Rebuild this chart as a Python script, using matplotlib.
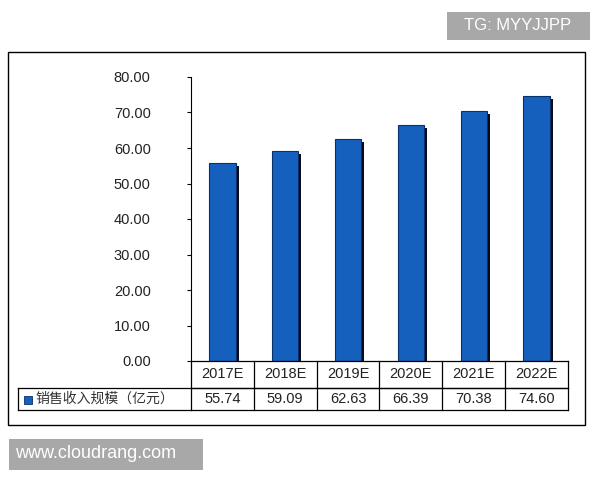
import matplotlib.pyplot as plt
from matplotlib.patches import Rectangle
from matplotlib.lines import Line2D

plt.rcParams['font.family'] = ['Noto Sans CJK SC', 'DejaVu Sans']

years = ['2017E', '2018E', '2019E', '2020E', '2021E', '2022E']
values = [55.74, 59.09, 62.63, 66.39, 70.38, 74.60]
series_name = '销售收入规模（亿元）'

W, H = 600, 480
fig = plt.figure(figsize=(6, 4.8), dpi=100)


def fx(px):
    return px / W


def fy(py):
    return 1 - py / H


# outer frame
fig.patches.append(Rectangle((fx(8), fy(425)), fx(577), 373 / H, transform=fig.transFigure,
                             fill=False, ec='black', lw=1.0))

x0, x1, y_top, y_zero = 191, 568, 77, 361
ax = fig.add_axes([fx(x0), fy(y_zero), fx(x1 - x0), (y_zero - y_top) / H])
n = len(years)
ax.set_xlim(-0.5, n - 0.5)
ax.set_ylim(0, 80)
bw = 0.42
dx = 3 / ((x1 - x0) / n)
dy = 80 * 3 / (y_zero - y_top)
for i, v in enumerate(values):
    ax.bar(i + dx, v - dy, width=bw, bottom=0, color='#0a0a1a', zorder=1)
    ax.bar(i, v, width=bw, color='#1560bd', ec='#0b2f6b', lw=0.8, zorder=2)
ax.set_yticks(range(0, 81, 10))
ax.set_yticklabels([f'{t:.2f}' for t in range(0, 81, 10)], fontsize=10.5, color='#222222',
                   family='Liberation Sans')
ax.tick_params(axis='y', length=3, pad=26)
ax.set_xticks([])
for s in ['top', 'right', 'bottom']:
    ax.spines[s].set_visible(False)

# data table
col_w = (x1 - x0) / n
r1, r2, r3 = 361, 388, 410
lines = [((x0, x1), (r1, r1)), ((x0, x1), (r2, r2)), ((18, x1), (r2, r2)),
         ((18, x1), (r3, r3)), ((18, 18), (r2, r3))]
for i in range(n + 1):
    lines.append(((x0 + i * col_w, x0 + i * col_w), (r1, r3)))
for xs, ys in lines:
    fig.add_artist(Line2D([fx(x) for x in xs], [fy(y) for y in ys], color='black', lw=0.9))
for i, (yr, v) in enumerate(zip(years, values)):
    cx = fx(x0 + (i + 0.5) * col_w)
    fig.text(cx, fy((r1 + r2) / 2), yr, ha='center', va='center', fontsize=10.5,
             family='Liberation Sans', color='#222222')
    fig.text(cx, fy((r2 + r3) / 2), f'{v:.2f}', ha='center', va='center', fontsize=10.5,
             family='Liberation Sans', color='#222222')
fig.patches.append(Rectangle((fx(24), fy(404)), fx(8), 8 / H, transform=fig.transFigure,
                             fc='#1560bd', ec='#0b2f6b', lw=0.6))
fig.text(fx(35), fy((r2 + r3) / 2), series_name, ha='left', va='center', fontsize=10,
         color='#333333')

# watermarks
fig.patches.append(Rectangle((fx(447), fy(40)), fx(143), 28 / H, transform=fig.transFigure,
                             fc='#a8a8a8', ec='none'))
fig.text(fx(518), fy(26), 'TG: MYYJJPP', ha='center', va='center', fontsize=12,
         color='white', family='Liberation Sans')
fig.patches.append(Rectangle((fx(9), fy(470)), fx(194), 31 / H, transform=fig.transFigure,
                             fc='#a8a8a8', ec='none'))
fig.text(fx(15), fy(454), 'www.cloudrang.com', ha='left', va='center', fontsize=13,
         color='white', family='Liberation Sans')

fig.savefig('out.png', dpi=100, facecolor='white')
